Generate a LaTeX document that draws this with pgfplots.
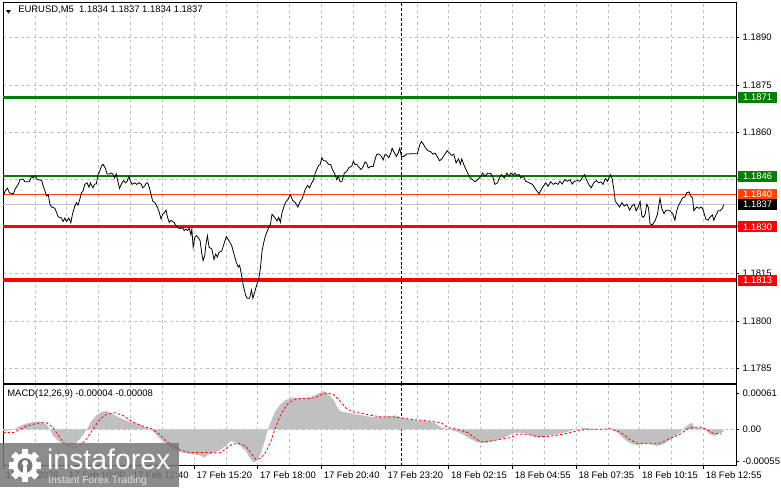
\documentclass[border=0pt]{standalone}
\usepackage{fontspec}
\setmainfont{Liberation Sans}
\usepackage{pgfplots}
\pgfplotsset{compat=1.18}

\definecolor{mtgreen}{RGB}{0,128,0}
\definecolor{mtorange}{RGB}{255,69,0}
\definecolor{mtgrid}{RGB}{192,192,192}
\definecolor{mtsilver}{RGB}{192,192,192}
\definecolor{logogray}{RGB}{120,120,120}

\pgfplotsset{
  mtpanel/.style={
    scale only axis, width=737pt, xmin=3, xmax=740,
    axis line style={line width=1pt},
    tick align=outside, major tick length=3pt, minor tick length=0pt,
    tick style={black, line width=0.8pt},
    xtick={3,67,...,707}, minor x tick num=1,
    xmajorgrids, xminorgrids,
    grid style={mtgrid, line width=0.8pt, dash pattern=on 3pt off 3pt},
    ytick pos=right, yticklabel pos=right,
    yticklabel style={inner xsep=1pt, xshift=2.2pt},
    clip mode=individual,
  },
}
\tikzset{
  box/.style={anchor=west, text=white, inner xsep=5pt, inner ysep=0pt,
    minimum height=11pt, minimum width=39.5pt, text height=7pt, text depth=0pt},
}

\begin{document}
\fontsize{9.5}{11}\selectfont
\begin{tikzpicture}[x=1pt, y=1pt]
\path (0,0) rectangle (781,489);

% price panel: prices are given as quoted, plotted in pips above 1.1800
\begin{axis}[mtpanel, at={(3pt,105pt)}, anchor=south west, height=382pt,
  y filter/.expression={(y-1.18)*10000},
  ymin=-19.72, ymax=101.04,
  xticklabels={}, xtick style={draw=none},
  ytick={-15,0,15,30,45,60,75,90},
  yticklabels={1.1785,1.1800,1.1815,1.1830,1.1845,1.1860,1.1875,1.1890},
  ymajorgrids]
\addplot[black, line width=0.8pt, dash pattern=on 3pt off 2pt] coordinates {(403,1.1780) (403,1.1902)};
\addplot[mtgreen, line width=3.5pt] coordinates {(3,1.1871) (740,1.1871)};
\addplot[mtgreen, line width=2.2pt] coordinates {(3,1.1846) (740,1.1846)};
\addplot[mtorange, line width=0.9pt] coordinates {(3,1.18402) (740,1.18402)};
\addplot[mtsilver, line width=0.9pt] coordinates {(3,1.18370) (740,1.18370)};
\addplot[red, line width=2.2pt] coordinates {(3,1.1830) (740,1.1830)};
\addplot[red, line width=3.8pt] coordinates {(3,1.1813) (740,1.1813)};
\addplot[black, line width=0.8pt] coordinates {
(2.7,1.18391)(5,1.18413)(7.3,1.18422)(9.3,1.18407)(13.3,1.18404)(15,1.18419)(18.3,1.18435)(20,1.18450)
(23.3,1.18450)(25,1.18442)(29.3,1.18442)(31.7,1.18460)(33.3,1.18454)(35,1.18462)(37.3,1.18449)(41.7,1.18447)
(43.3,1.18428)(45,1.18413)(46.7,1.18397)(48.3,1.18402)(50,1.18371)(51.7,1.18362)(55,1.18358)(56.7,1.18344)
(58.3,1.18331)(61.7,1.18327)(63.3,1.18316)(65,1.18327)(66.7,1.18316)(69,1.18327)(71,1.18312)(72.7,1.18339)
(75,1.18365)(76.7,1.18376)(78.3,1.18368)(80,1.18386)(81.7,1.18407)(83.3,1.18413)(85,1.18434)(87.3,1.18439)
(89.3,1.18425)(90.7,1.18439)(93.3,1.18423)(95,1.18435)(96.7,1.18435)(98.3,1.18465)(100,1.18475)(101.7,1.18491)
(103.3,1.18498)(106,1.18484)(107.3,1.18467)(110,1.18467)(111.7,1.18470)(113.3,1.18467)(115,1.18454)(116.7,1.18467)
(118.3,1.18444)(120,1.18421)(121.7,1.18434)(124,1.18446)(126,1.18439)(127.7,1.18444)(129.3,1.18460)(131,1.18444)
(132.7,1.18434)(135,1.18439)(137.3,1.18434)(139.3,1.18439)(141.7,1.18435)(143.3,1.18423)(145,1.18428)(146.7,1.18437)
(148.3,1.18439)(150,1.18423)(151.7,1.18402)(153.3,1.18381)(155.7,1.18376)(158.3,1.18360)(160,1.18344)(161.7,1.18324)
(163.3,1.18339)(165,1.18344)(166.7,1.18352)(168.3,1.18329)(170,1.18313)(171.7,1.18320)(173.3,1.18316)(175,1.18313)
(176.7,1.18302)(179.3,1.18295)(181.7,1.18294)(183.3,1.18297)(185,1.18287)(186.7,1.18292)(188.3,1.18287)(190,1.18295)
(191.7,1.18274)(192.7,1.18292)(194,1.18234)(195.7,1.18266)(197.3,1.18271)(199.3,1.18264)(201,1.18255)(202.7,1.18213)
(204,1.18192)(205.7,1.18208)(206.7,1.18240)(208.3,1.18271)(210,1.18234)(212.7,1.18229)(215,1.18195)(216.7,1.18213)
(218.3,1.18203)(220,1.18218)(222.7,1.18222)(225,1.18245)(227.3,1.18268)(230,1.18255)(232.7,1.18240)(235,1.18213)
(237.3,1.18187)(239.3,1.18171)(240.7,1.18177)(242.7,1.18145)(244.3,1.18114)(246.7,1.18082)(248.3,1.18072)(250.7,1.18072)
(252.7,1.18098)(254,1.18072)(256,1.18093)(258.3,1.18119)(260,1.18135)(261.7,1.18170)(263.3,1.18224)(265,1.18250)
(266.7,1.18271)(269.3,1.18292)(271.7,1.18308)(273.3,1.18339)(276,1.18329)(278.3,1.18318)(280,1.18329)(281.7,1.18313)
(283.3,1.18344)(285,1.18360)(286.7,1.18376)(289.3,1.18386)(291.7,1.18402)(294,1.18383)(296.7,1.18376)(299.3,1.18362)
(301.7,1.18381)(303.3,1.18386)(305,1.18402)(306.7,1.18418)(309,1.18431)(311,1.18423)(313.3,1.18439)(315,1.18449)
(316.7,1.18470)(318.3,1.18481)(320,1.18494)(321.7,1.18497)(323.3,1.18519)(325,1.18509)(327.3,1.18509)(330,1.18498)
(332.3,1.18497)(334,1.18481)(336.7,1.18465)(338.3,1.18449)(340,1.18460)(341.7,1.18442)(343.3,1.18442)(346,1.18470)
(348.3,1.18475)(350.7,1.18488)(353.3,1.18491)(355,1.18507)(356.7,1.18497)(358.3,1.18498)(360,1.18491)(362.7,1.18481)
(365,1.18491)(366.7,1.18505)(368.3,1.18502)(370,1.18486)(372.3,1.18491)(375,1.18491)(376.7,1.18512)(378.3,1.18528)
(380,1.18531)(381.7,1.18528)(383.3,1.18523)(385,1.18512)(386.7,1.18528)(388.3,1.18528)(390.7,1.18519)(392.7,1.18533)
(394,1.18549)(396,1.18536)(398.3,1.18523)(400,1.18533)(401.7,1.18549)(403.3,1.18523)(406,1.18523)(408.3,1.18530)
(411.7,1.18531)(415,1.18531)(417.3,1.18531)(419.3,1.18531)(421.7,1.18559)(423.3,1.18570)(425,1.18564)(427.3,1.18551)
(430,1.18541)(432.7,1.18538)(435,1.18530)(437.3,1.18533)(439.3,1.18523)(441.7,1.18509)(444,1.18515)(446.7,1.18528)
(449.3,1.18541)(451.7,1.18533)(454,1.18526)(456,1.18530)(458.3,1.18502)(460.7,1.18515)(462.7,1.18498)(464,1.18515)
(466,1.18497)(468.3,1.18481)(470.7,1.18465)(472.7,1.18454)(475,1.18449)(477.3,1.18442)(480,1.18449)(483.3,1.18460)
(485,1.18470)(487.3,1.18460)(490,1.18470)(493.3,1.18468)(495,1.18460)(497.3,1.18434)(500,1.18439)(501.7,1.18454)
(504,1.18465)(506.7,1.18454)(509.3,1.18470)(511.7,1.18460)(513.3,1.18470)(516,1.18463)(517.3,1.18470)(519.3,1.18463)
(521.7,1.18465)(523.3,1.18454)(526,1.18460)(528.3,1.18444)(531.7,1.18439)(535,1.18434)(538.3,1.18418)(541.7,1.18404)
(544,1.18418)(546,1.18428)(548.3,1.18439)(550.7,1.18428)(553.3,1.18442)(556,1.18434)(558.3,1.18439)(560.7,1.18434)
(562.7,1.18444)(565,1.18435)(567.3,1.18449)(570,1.18444)(572.7,1.18449)(575,1.18435)(577.3,1.18444)(580,1.18446)
(582.7,1.18444)(585,1.18454)(587.3,1.18465)(589.3,1.18449)(591.7,1.18434)(594,1.18423)(596.7,1.18439)(599.3,1.18446)
(601.7,1.18439)(604,1.18442)(606,1.18434)(608.3,1.18452)(610.7,1.18444)(613.3,1.18465)(615,1.18454)(616.7,1.18423)
(618.3,1.18381)(620.7,1.18371)(622.7,1.18362)(625,1.18376)(627.3,1.18365)(630,1.18371)(632.7,1.18352)(635,1.18365)
(637.3,1.18371)(639.3,1.18350)(641.7,1.18365)(643.3,1.18379)(645,1.18334)(646.7,1.18329)(648.3,1.18339)(650,1.18371)
(651.7,1.18360)(653.3,1.18308)(655.7,1.18306)(658.3,1.18318)(660.7,1.18339)(663.3,1.18390)(665,1.18358)(667.3,1.18341)
(669.3,1.18352)(671.7,1.18352)(673.3,1.18350)(676,1.18341)(678.3,1.18320)(680,1.18350)(681.7,1.18365)(684,1.18379)
(686,1.18391)(688.3,1.18394)(690,1.18407)(692.7,1.18410)(694,1.18397)(696,1.18391)(697.3,1.18350)(700,1.18362)
(702.3,1.18358)(705,1.18362)(706.7,1.18352)(709.3,1.18324)(711.7,1.18320)(713.3,1.18329)(716,1.18337)(717.3,1.18320)
(719.3,1.18334)(721.7,1.18350)(724,1.18350)(726,1.18358)(727.3,1.18370)
};
% price-scale label anchors (pips above 1.1800)
\coordinate (b1871) at (axis cs:740,71);
\coordinate (b1846) at (axis cs:740,46);
\coordinate (b1840) at (axis cs:740,40.2);
\coordinate (b1837) at (axis cs:740,37);
\coordinate (b1830) at (axis cs:740,30);
\coordinate (b1813) at (axis cs:740,13);
\end{axis}

% MACD panel (values in units of 0.00001)
\begin{axis}[mtpanel, at={(3pt,22pt)}, anchor=south west, height=81pt,
  ymin=-62, ymax=75.7,
  ytick={-55,0,61}, yticklabels={-0.00055,0.00,0.00061},
  xtick pos=left,
  xticklabels={17 Feb 2026,17 Feb 10:00,17 Feb 12:40,17 Feb 15:20,17 Feb 18:00,17 Feb 20:40,
    17 Feb 23:20,18 Feb 02:15,18 Feb 04:55,18 Feb 07:35,18 Feb 10:15,18 Feb 12:55},
  xticklabel style={anchor=north west, xshift=-1pt}]
\addplot[mtgrid, line width=0.8pt, dash pattern=on 3pt off 3pt] coordinates {(3,0) (740,0)};
\addplot[black, line width=0.8pt, dash pattern=on 3pt off 2pt] coordinates {(403,-62) (403,75.7)};
\addplot[fill=mtsilver, draw=none] coordinates {
(3,-3)(13.3,-1)(20,5.7)(26.7,10.2)(33.3,12.5)(40,13.0)(46.7,8.5)(50,0)(53.3,-11.3)(58.3,-19.8)(63.3,-25.5)
(70,-28.4)(75,-25.5)(80,-17.0)(85,-5.7)(88.3,2.8)(91.7,14.2)(96.7,23.8)(101.7,29.5)(106.7,31.2)(111.7,27.2)
(118.3,21.5)(125,15.9)(133.3,11.3)(140,8.5)(146.7,2.8)(153.3,-2.8)(158.3,-11.3)(163.3,-19.8)(168.3,-28.4)
(173.3,-34.0)(180,-38.6)(186.7,-40.8)(193.3,-42.5)(200,-44.2)(205,-48.2)(208.3,-44.2)(213.3,-40.8)(220,-36.9)
(226.7,-28.4)(231.7,-19.8)(236.7,-22.7)(241.7,-28.4)(246.7,-36.9)(251.7,-51.0)(255,-56.7)(258.3,-53.9)
(261.7,-42.5)(265,-25.5)(268.3,-5.7)(271.7,11.3)(276.7,31.2)(281.7,42.5)(286.7,49.9)(293.3,53.9)(300,53.9)
(306.7,52.7)(313.3,55.6)(320,61.2)(325,65.2)(330,59.5)(335,51.0)(338.3,39.7)(341.7,31.2)(348.3,28.4)
(355,26.6)(363.3,23.8)(373.3,21.0)(380,21.5)(393.3,22.7)(396.7,23.8)(403.3,19.8)(413.3,15.9)(426.7,14.2)
(436.7,11.3)(443.3,2.8)(450,0)(460,-4.5)(466.7,-10.2)(473.3,-17.0)(480,-22.7)(486.7,-23.8)(493.3,-21.5)
(500,-18.1)(506.7,-14.2)(513.3,-8.5)(520,-5.7)(526.7,-6.8)(533.3,-10.2)(540,-14.2)(546.7,-12.5)(553.3,-10.2)
(560,-8.5)(566.7,-5.7)(573.3,-2.8)(580,0)(586.7,2.3)(593.3,1.1)(600,0)(613.3,0)(620,-4.5)(626.7,-15.9)
(633.3,-23.8)(640,-27.2)(646.7,-25.5)(653.3,-25.5)(660,-28.4)(666.7,-25.5)(673.3,-18.1)(680,-10.2)(685,-2.8)
(690,5.7)(695,11.3)(698.3,2.8)(703.3,2.8)(708.3,0)(713.3,-8.5)(718.3,-11.3)(723.3,-6.8)(727.3,-4)
} \closedcycle;
\addplot[red, line width=0.8pt, dash pattern=on 2.5pt off 2pt] coordinates {
(3,-5.7)(13.3,-5.7)(20,0)(26.7,5.7)(33.3,8.5)(40,11.3)(46.7,11.3)(53.3,2.8)(60,-14.2)(66.7,-28.4)(73.3,-31.2)
(80,-28.4)(86.7,-17.0)(93.3,0)(100,17.0)(106.7,25.5)(115,28.4)(123.3,23.8)(133.3,12.5)(143.3,5.7)(153.3,0)
(160,-8.5)(166.7,-19.8)(173.3,-28.4)(181.7,-35.7)(190,-39.7)(200,-39.7)(210,-39.7)(220,-40.8)(226.7,-34.0)
(233.3,-25.5)(240,-24.4)(246.7,-28.4)(251.7,-39.7)(256.7,-51.0)(261.7,-49.9)(266.7,-39.7)(271.7,-22.7)
(275,-5.7)(280,17.0)(285,34.0)(290,45.4)(296.7,51.0)(303.3,52.7)(310,52.7)(316.7,53.9)(321.7,58.4)(328.3,62.4)
(335,59.5)(341.7,48.2)(348.3,35.2)(355,29.5)(363.3,27.2)(373.3,23.8)(383.3,21.0)(396.7,21.0)(413.3,17.0)
(430,14.2)(443.3,11.3)(450,2.8)(460,0)(470,-5.7)(476.7,-14.2)(483.3,-21.5)(493.3,-19.8)(503.3,-17.0)
(513.3,-14.2)(520,-8.5)(530,-8.5)(540,-12.5)(550,-12.5)(560,-10.2)(570,-6.8)(580,-2.8)(590,0)(603.3,0)
(613.3,1.1)(620,-2.8)(626.7,-8.5)(633.3,-18.1)(640,-23.8)(653.3,-23.8)(663.3,-23.8)(673.3,-15.9)(683.3,-8.5)
(693.3,2.8)(703.3,4.0)(710,0)(716.7,-6.8)(725,-8)
};
\end{axis}

% price scale boxes
\node[box, fill=mtgreen] at ([xshift=1.5pt]b1871) {1.1871};
\node[box, fill=mtgreen] at ([xshift=1.5pt]b1846) {1.1846};
\node[box, fill=mtorange] at ([xshift=1.5pt]b1840) {1.1840};
\node[box, fill=black] at ([xshift=1.5pt]b1837) {1.1837};
\node[box, fill=red] at ([xshift=1.5pt]b1830) {1.1830};
\node[box, fill=red] at ([xshift=1.5pt]b1813) {1.1813};

% titles
\fill (6,479.7) -- (10.7,479.7) -- (8.35,476.3) -- cycle;
\node[anchor=west, inner sep=0] at (18,480) {EURUSD,M5\ \ 1.1834 1.1837 1.1834 1.1837};
\node[anchor=west, inner sep=0] at (7,94) {MACD(12,26,9) -0.00004 -0.00008};

% watermark
\fill[logogray, fill opacity=0.85] (0,0) rectangle (180,45);
\begin{scope}[shift={(25,22)}]
  \foreach \a in {0,45,...,315} \fill[white, rotate=\a] (-3.2,10) rectangle (3.2,16.5);
  \fill[white] (0,0) circle (12.5);
  \fill[logogray] (0,0) circle (7.5);
  \fill[white] (0,2.5) circle (3);
  \fill[white] (-2,-8) rectangle (2,0);
\end{scope}
\node[anchor=base west, inner sep=0, text=white, font=\fontsize{28.6}{30}\selectfont] at (47,18) {instaforex};
\node[anchor=base west, inner sep=0, text={rgb,255:red,225;green,225;blue,225}, font=\fontsize{10.5}{12}\selectfont] at (48,4) {Instant Forex Trading};
\end{tikzpicture}
\end{document}
